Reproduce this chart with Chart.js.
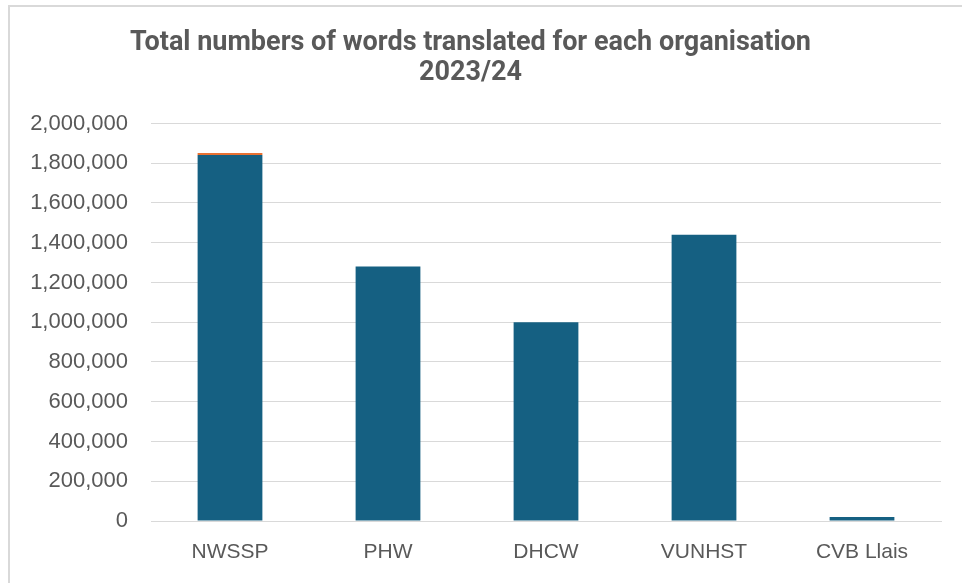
<!DOCTYPE html>
<html><head><meta charset="utf-8">
<script src="https://cdn.jsdelivr.net/npm/chart.js@4/dist/chart.umd.min.js"></script>
<style>html,body{margin:0;padding:0;background:#fff;}#wrap{position:absolute;left:0;top:0;width:962px;height:583px;}</style>
</head><body><div id="wrap"><canvas id="c" width="962" height="583"></canvas></div>
<script>
const categories = ["NWSSP", "PHW", "DHCW", "VUNHST", "CVB Llais"];
const mainWords = [1842000, 1280000, 1000000, 1440000, 20000];
const extraWords = [10000, 0, 0, 0, 0];
const titleLines = ["Total numbers of words translated for each organisation", "2023/24"];
const yMax = 2000000;
const yStep = 200000;

const borderPlugin = {
  id: 'outerBorder',
  beforeDraw(chart) {
    const ctx = chart.ctx;
    ctx.save();
    ctx.fillStyle = '#fff';
    ctx.fillRect(0, 0, chart.width, chart.height);
    ctx.strokeStyle = '#d9d9d9';
    ctx.lineWidth = 2;
    ctx.strokeRect(9, 6, chart.width + 20, chart.height + 20);
    ctx.restore();
  }
};

new Chart(document.getElementById('c'), {
  type: 'bar',
  data: {
    labels: categories,
    datasets: [
      { label: 'Words', data: mainWords, backgroundColor: '#156082', categoryPercentage: 1, barPercentage: 0.41 },
      { label: 'Other', data: extraWords, backgroundColor: '#E97132', categoryPercentage: 1, barPercentage: 0.41 }
    ]
  },
  options: {
    responsive: false,
    animation: false,
    layout: { padding: { left: 0, right: 21, top: 0, bottom: 0 } },
    plugins: {
      legend: { display: false },
      tooltip: { enabled: false },
      title: {
        display: true,
        text: titleLines,
        color: '#595959',
        font: { family: 'Roboto', size: 27, weight: 'bold', lineHeight: 1.12 },
        padding: { top: 28, bottom: 35 }
      }
    },
    scales: {
      x: {
        stacked: true,
        grid: { display: false, drawTicks: false },
        border: { display: true, color: '#d9d9d9', width: 1 },
        ticks: { color: '#595959', font: { family: 'Liberation Sans', size: 21 }, padding: 19 },
        afterFit(s) { s.height = 62; }
      },
      y: {
        stacked: true,
        min: 0, max: yMax,
        ticks: {
          stepSize: yStep,
          color: '#595959',
          font: { family: 'Liberation Sans', size: 22 },
          padding: 23,
          callback: v => v.toLocaleString('en-US')
        },
        grid: { color: '#d9d9d9', lineWidth: 1, drawTicks: false },
        border: { display: false },
        afterFit(s) { s.width = 151; }
      }
    }
  },
  plugins: [borderPlugin]
});
</script></body></html>
